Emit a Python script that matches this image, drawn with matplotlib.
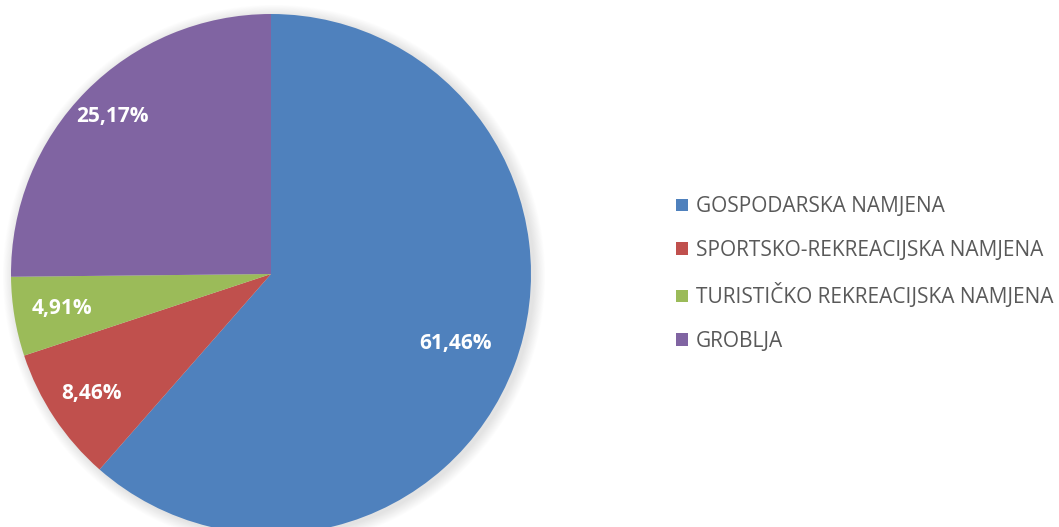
import matplotlib
matplotlib.use("Agg")
from matplotlib import pyplot as plt
from matplotlib.patches import Circle, Patch
import numpy as np

labels = ["GOSPODARSKA NAMJENA", "SPORTSKO-REKREACIJSKA NAMJENA",
          "TURISTIČKO REKREACIJSKA NAMJENA", "GROBLJA"]
values = [61.46, 8.46, 4.91, 25.17]
colors = ["#4F81BD", "#C0504D", "#9BBB59", "#8064A2"]
label_dist = [0.76, 0.83, 0.815, 0.86]

W, H = 1059, 527
fig = plt.figure(figsize=(W / 100, H / 100), dpi=100)
ax = fig.add_axes([0, 0, 1, 1])

cx, cy, R = 271, H - 274, 260

# soft shadow round the pie
for k in range(14, 0, -1):
    ax.add_patch(Circle((cx + 3, cy - 2), R + k * 0.8, color="#000000",
                        alpha=0.008, lw=0, zorder=0))

wedges, _ = ax.pie(values, colors=colors, startangle=90, counterclock=False,
                   center=(cx, cy), radius=R, frame=True,
                   wedgeprops=dict(linewidth=0))
ax.set_xlim(0, W)
ax.set_ylim(0, H)
ax.set_aspect("equal")
ax.axis("off")

for w, v, d in zip(wedges, values, label_dist):
    mid = np.deg2rad((w.theta1 + w.theta2) / 2)
    x = cx + d * R * np.cos(mid)
    y = cy + d * R * np.sin(mid)
    ax.text(x, y, f"{v:.2f}%".replace(".", ","), color="white",
            fontsize=15, fontweight="bold", family="Open Sans",
            ha="center", va="center")

handles = [Patch(facecolor=c, edgecolor="none") for c in colors]
leg = ax.legend(handles, labels, loc="center left",
                bbox_to_anchor=(668 / W, 1 - 274 / H), frameon=False,
                prop=dict(family="Open Sans", size=15),
                handlelength=0.55, handleheight=0.55, handletextpad=0.4,
                labelspacing=1.08, borderaxespad=0)
for t in leg.get_texts():
    t.set_color("#595959")

fig.savefig("out.png", dpi=100)
